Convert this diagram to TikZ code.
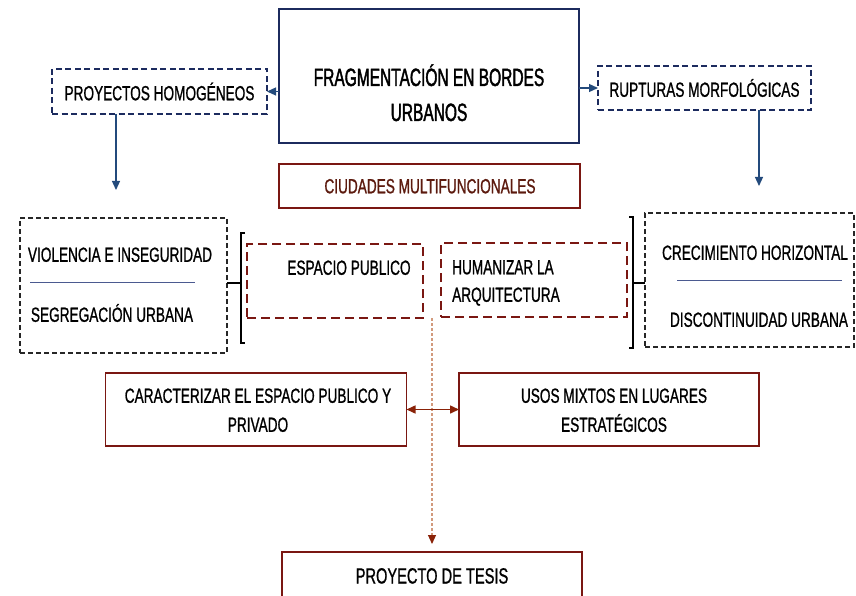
\documentclass[tikz,border=0pt]{standalone}
\usepackage{fontspec}
\setmainfont{Liberation Sans}[FakeStretch=0.665,FakeBold=0.9]
\newfontfamily\titlefont{Liberation Sans}[FakeStretch=0.62,FakeBold=1.6]
\usetikzlibrary{arrows.meta,calc}
\definecolor{navy}{HTML}{1C2B5E}
\definecolor{anavy}{HTML}{234A7C}
\definecolor{dred}{HTML}{7A1712}
\definecolor{tred}{HTML}{5C1A0E}
\definecolor{ared}{HTML}{8A2208}
\definecolor{dotc}{HTML}{D29A7C}
\definecolor{sepc}{HTML}{4B5A90}
\newcommand{\fsn}{\fontsize{20.5}{24}\selectfont}
\newcommand{\fst}{\titlefont\fontsize{25}{29}\selectfont}
\newcommand{\fsp}{\fontsize{22}{26}\selectfont}
\tikzset{
  boxbase/.style={rectangle, inner sep=0pt, outer sep=0pt},
  mainbox/.style={boxbase, draw=navy, line width=2pt},
  navydash/.style={boxbase, draw=navy, line width=1.8pt, dash pattern=on 6pt off 3.5pt},
  blackdash/.style={boxbase, draw=black!85, line width=1.6pt, dash pattern=on 5pt off 3pt},
  reddash/.style={boxbase, draw=dred, line width=2.8pt, dash pattern=on 9pt off 5pt},
  redbox/.style={boxbase, draw=dred, line width=1.8pt},
  lbl/.style={anchor=base, inner sep=0pt, font=\fsn, text=black},
  lblw/.style={anchor=base west, inner sep=0pt, font=\fsn, text=black},
  navyarrow/.style={draw=anavy, line width=1.2pt, -{Triangle[length=9pt,width=8pt]}},
  sepline/.style={draw=sepc, line width=1pt},
  bracket/.style={draw=black, line width=2.2pt},
}
\begin{document}
\begin{tikzpicture}[x=1pt,y=-1pt]
\useasboundingbox[fill=white] (0,0) rectangle (856,596);

% main box
\node[mainbox, minimum width=300, minimum height=134] (main) at (429,76) {};
\node[lbl, font=\fst] (t1) at (429,86) {FRAGMENTACIÓN EN BORDES};
\node[lbl, font=\fst] (t2) at (429,121) {URBANOS};

% side dashed boxes
\node[navydash, minimum width=215, minimum height=45] (ph) at (159.5,91.5) {};
\node[lbl] (phl) at (159.5,100.3) {PROYECTOS HOMOGÉNEOS};
\node[navydash, minimum width=213, minimum height=44] (rm) at (704.5,88) {};
\node[lbl] (rml) at (704.5,96.8) {RUPTURAS MORFOLÓGICAS};

\draw[navyarrow] (ph.east -| main.west) -- (ph.east);
\draw[navyarrow] (rm.west -| main.east) -- (rm.west);

\coordinate (phdown) at (116,190);
\coordinate (rmdown) at (759,186);
\draw[navyarrow] (ph.south -| phdown) -- (phdown);
\draw[navyarrow] (rm.south -| rmdown) -- (rmdown);

% ciudades
\node[redbox, line width=2pt, minimum width=301, minimum height=44] (ciu) at (429.5,186) {};
\node[lbl, text=tred] (ciul) at (430,193.3) {CIUDADES MULTIFUNCIONALES};

% left group
\node[blackdash, minimum width=207, minimum height=135] (viol) at (123.5,285.5) {};
\node[lbl] (v1) at (120,261.8) {VIOLENCIA E INSEGURIDAD};
\node[lbl] (v2) at (112,321.8) {SEGREGACIÓN URBANA};
\coordinate (vs1) at (30,282);
\coordinate (vs2) at (195,282);
\draw[sepline] (vs1) -- (vs2);

\coordinate (brLt) at (245,233);
\coordinate (brLb) at (245,343);
\coordinate (brL) at (241,283);
\draw[bracket] (brLt) -- ++(-4,0) -- ($(brLb)+(-4,0)$) -- (brLb);
\draw[bracket, line width=2.6pt] (viol.east |- brL) -- (brL);

% center dashed boxes
\node[reddash, minimum width=176, minimum height=74] (esp) at (335,281) {};
\node[lbl] (espl) at (349,274.8) {ESPACIO PUBLICO};
\node[reddash, minimum width=186, minimum height=74] (hum) at (534,280) {};
\node[lblw] (h1) at (452,274.3) {HUMANIZAR LA};
\node[lblw] (h2) at (452,301.8) {ARQUITECTURA};

% right group
\node[blackdash, minimum width=209, minimum height=134] (crec) at (749.5,280) {};
\node[lbl] (c1) at (755,259.8) {CRECIMIENTO HORIZONTAL};
\node[lbl] (c2) at (759,326.8) {DISCONTINUIDAD URBANA};
\coordinate (cs1) at (677,280);
\coordinate (cs2) at (842,280);
\draw[sepline] (cs1) -- (cs2);

\coordinate (brRt) at (629,217);
\coordinate (brRb) at (629,348);
\coordinate (brR) at (633,283);
\draw[bracket] (brRt) -- ++(4,0) -- ($(brRb)+(4,0)$) -- (brRb);
\draw[bracket, line width=2.6pt] (brR) -- (crec.west |- brR);

% lower boxes
\node[redbox, minimum width=301, minimum height=73] (car) at (256,409.5) {};
\node[lbl] (ca1) at (258,402.8) {CARACTERIZAR EL ESPACIO PUBLICO Y};
\node[lbl] (ca2) at (258,431.8) {PRIVADO};
\node[redbox, minimum width=300, minimum height=73] (usos) at (609,409.5) {};
\node[lbl] (u1) at (614,402.8) {USOS MIXTOS EN LUGARES};
\node[lbl] (u2) at (614,431.8) {ESTRATÉGICOS};

\node[redbox, minimum width=300, minimum height=76] (tesis) at (432,590) {};
\node[lbl, font=\fsp] (tl) at (432,583.5) {PROYECTO DE TESIS};

% dotted connector
\coordinate (dtop) at (432,318);
\draw[draw=dotc, line width=1.1pt, dash pattern=on 3pt off 2pt, shorten >=8pt,
      -{Triangle[length=9pt,width=8pt,color=ared]}] (dtop) -- (tesis.north);

% double arrow
\draw[draw=ared, line width=1.5pt, {Triangle[length=9pt,width=8pt]}-{Triangle[length=9pt,width=8pt]}]
  (car.east) -- (usos.west);
\end{tikzpicture}
\end{document}
